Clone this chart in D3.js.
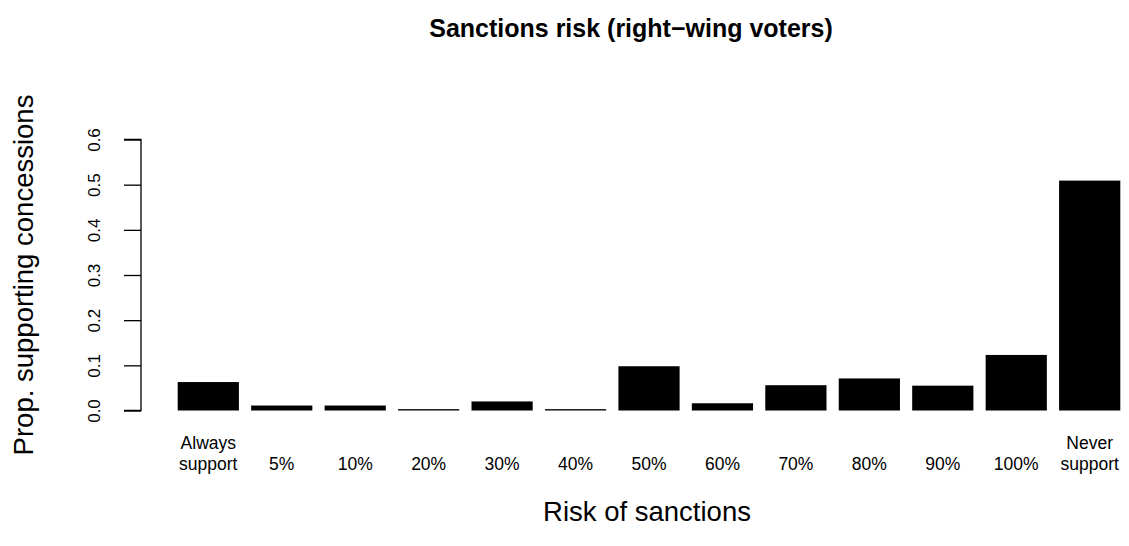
<!DOCTYPE html>
<html>
<head>
<meta charset="utf-8">
<script src="https://cdn.jsdelivr.net/npm/d3@7"></script>
<style>
  html, body { margin: 0; padding: 0; background: #fff; }
  svg { display: block; }
  text { font-family: "Liberation Sans", Arial, sans-serif; fill: #000; }
</style>
</head>
<body>
<svg id="chart" width="1129" height="546"></svg>
<script>
// ---- data ----
const categories = ["Always\nsupport", "5%", "10%", "20%", "30%", "40%", "50%", "60%", "70%", "80%", "90%", "100%", "Never\nsupport"];
const values = [0.063, 0.011, 0.011, 0.003, 0.020, 0.003, 0.098, 0.016, 0.056, 0.071, 0.055, 0.123, 0.509];
const yTicks = [0.0, 0.1, 0.2, 0.3, 0.4, 0.5, 0.6];
const titleText = "Sanctions risk (right\u2212wing voters)";
const xLabel = "Risk of sanctions";
const yLabel = "Prop. supporting concessions";

// ---- layout ----
const svg = d3.select("#chart");

const x = d3.scaleBand()
  .domain(categories)
  .range([177.7, 1120.3])
  .paddingInner(0.2 / 1.2)
  .paddingOuter(0);

const y = d3.scaleLinear().domain([0, 0.6]).range([410.5, 139.5]);

// bars
svg.append("g").selectAll("rect")
  .data(values)
  .join("rect")
  .attr("x", (d, i) => x(categories[i]))
  .attr("width", x.bandwidth())
  .attr("y", d => y(d))
  .attr("height", d => y(0) - y(d))
  .attr("fill", "#000");

// y axis
const yAxis = d3.axisLeft(y)
  .tickValues(yTicks)
  .tickFormat(d3.format(".1f"))
  .tickSize(17)
  .tickPadding(0);
const gy = svg.append("g").attr("transform", "translate(141,0)").call(yAxis);
gy.select(".domain").attr("d", `M-17,${y(0.6)}H0V${y(0)}H-17`).attr("stroke", "#000").attr("stroke-width", 1.3).attr("fill", "none");
gy.selectAll(".tick line").attr("stroke", "#000").attr("stroke-width", 1.3);
gy.selectAll(".tick text")
  .attr("font-size", 17)
  .attr("font-family", "Liberation Sans, Arial, sans-serif")
  .attr("text-anchor", "middle")
  .attr("dy", 0)
  .attr("x", 0).attr("y", 0)
  .attr("transform", "translate(-41,0) rotate(-90)");

// x tick labels
const xl = svg.append("g");
categories.forEach((c, i) => {
  const cx = x(c) + x.bandwidth() / 2;
  const lines = c.split("\n");
  const t = xl.append("text")
    .attr("x", cx)
    .attr("text-anchor", "middle")
    .attr("font-size", 17.5);
  lines.forEach((ln, j) => {
    t.append("tspan").attr("x", cx)
      .attr("y", 470 - (lines.length - 1 - j) * 21)
      .text(ln);
  });
});

// title
svg.append("text")
  .attr("x", 631).attr("y", 37)
  .attr("text-anchor", "middle")
  .attr("font-size", 25)
  .attr("font-weight", "bold")
  .text(titleText);

// x label
svg.append("text")
  .attr("x", 647).attr("y", 521)
  .attr("text-anchor", "middle")
  .attr("font-size", 27.5)
  .text(xLabel);

// y label
svg.append("text")
  .attr("transform", `translate(33,${y(0.3)}) rotate(-90)`)
  .attr("text-anchor", "middle")
  .attr("font-size", 27.5)
  .text(yLabel);
</script>
</body>
</html>
